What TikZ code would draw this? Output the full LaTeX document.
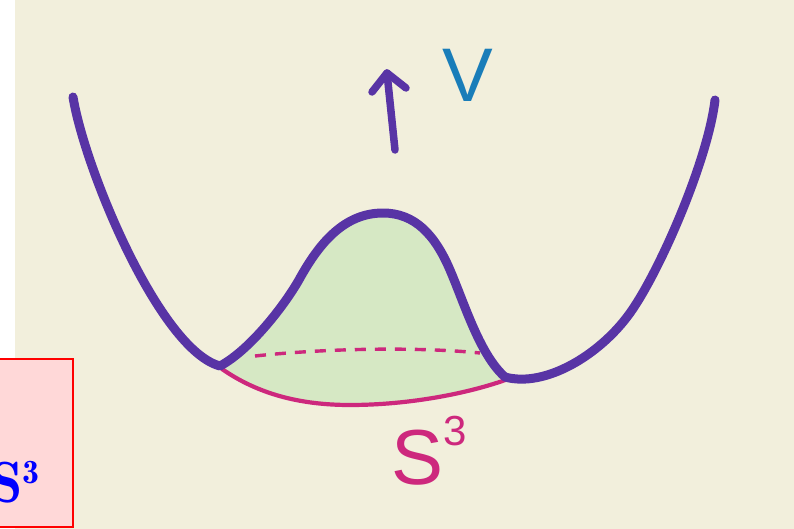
\RequirePackage{fix-cm}
\documentclass[tikz,border=0pt]{standalone}
\usepackage{fontspec}
\newfontfamily\sketchfont{Liberation Sans}
\definecolor{paper}{RGB}{242,239,220}
\definecolor{well}{RGB}{88,52,165}
\definecolor{sphere}{RGB}{205,40,125}
\definecolor{bump}{RGB}{214,232,196}
\definecolor{vblue}{RGB}{25,125,185}
\definecolor{boxfill}{RGB}{255,216,216}
\usetikzlibrary{arrows.meta,positioning,calc}

\begin{document}
\begin{tikzpicture}[x=1pt,y=-1pt]
        \useasboundingbox (0,0) rectangle (794,529);
        \fill[paper] (15,0) rectangle (794,529);
        \fill[bump] (220,366) .. controls (250,350) and (285,305) .. (300,278)
          .. controls (320,242) and (345,213) .. (383,213)
          .. controls (415,213) and (435,235) .. (450,270)
          .. controls (465,305) and (480,355) .. (505,377)
          .. controls (470,393) and (410,405) .. (350,405) .. controls (300,405) and (258,394) .. (220,368) -- cycle;
        \draw[sphere, line width=3.4pt, dash pattern=on 11pt off 9pt] (255,356) .. controls (330,348) and (420,347) .. (480,353);
        \draw[sphere, line width=4.2pt, line cap=round] (222,369) .. controls (258,394) and (300,405) .. (350,405) .. controls (410,405) and (470,393) .. (508,379);
        \draw[well, line width=9pt, line cap=round, line join=round] (73,97) .. controls (85,170) and (160,350) .. (220,366)
          .. controls (250,350) and (285,305) .. (300,278)
          .. controls (320,242) and (345,213) .. (383,213)
          .. controls (415,213) and (435,235) .. (450,270)
          .. controls (465,305) and (480,355) .. (505,377)
          .. controls (545,388) and (600,355) .. (630,313)
          .. controls (660,271) and (708,160) .. (715,100);
        \coordinate (vtail) at (395,150);
        \coordinate (vtip) at (387,73);
        \coordinate (vwingl) at (372,92);
        \coordinate (vwingr) at (406,88);
        \draw[well, line width=7.5pt, line cap=round] (vtail) -- (vtip);
        \draw[well, line width=7.5pt, line cap=round, line join=round] (vwingl) -- (vtip) -- (vwingr);
        \node[vblue, anchor=base, inner sep=0pt, font=\sketchfont\fontsize{76}{76}\selectfont] (vlabel) at (468,102) {V};
        \node[sphere, anchor=base west, inner sep=0pt, font=\sketchfont\fontsize{78}{78}\selectfont] (slabel) at (391,484)
          {S\raise39pt\hbox{\fontsize{42}{42}\selectfont 3}};
        \draw[red, line width=2pt, fill=boxfill] (-60,359) rectangle (73,527);
        \node[blue, anchor=base east, inner sep=0pt] (boxlabel) at (40,502)
          {\fontsize{58}{58}\selectfont$\mathbf{S}$\raise19pt\hbox{\fontsize{34}{34}\selectfont$\mathbf{3}$}};
      \end{tikzpicture}
\end{document}
